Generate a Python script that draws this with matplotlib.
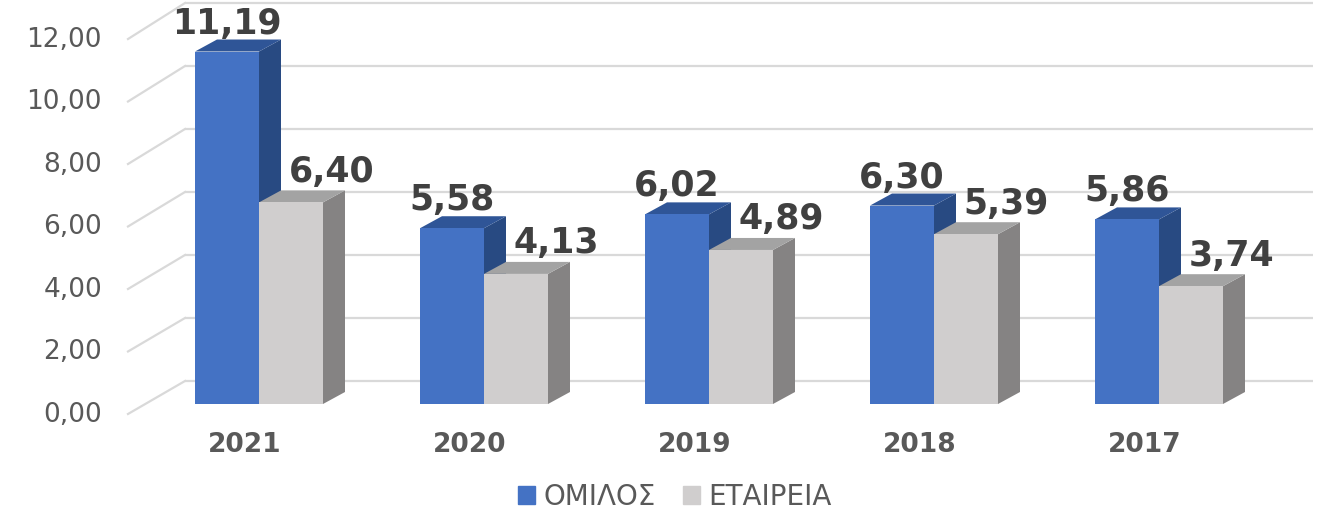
import matplotlib
matplotlib.use("Agg")
import matplotlib.pyplot as plt
from matplotlib.patches import Polygon, Patch

# data
years = ["2021", "2020", "2019", "2018", "2017"]
omilos = [11.19, 5.58, 6.02, 6.30, 5.86]
etaireia = [6.40, 4.13, 4.89, 5.39, 3.74]
series_names = ["ΟΜΙΛΟΣ", "ΕΤΑΙΡΕΙΑ"]
yticks = [0, 2, 4, 6, 8, 10, 12]

# colours: front, top, side
blue = ("#4472C4", "#2F5597", "#284A82")
grey = ("#D0CECE", "#A3A3A3", "#858383")
text_col = "#595959"
label_col = "#404040"
grid_col = "#D9D9D9"

W, H = 1322, 512
fig = plt.figure(figsize=(W / 100, H / 100), dpi=100)
ax = fig.add_axes([0, 0, 1, 1])
# 1 x unit = 225 px, 1 y unit = 31.5 px, group 0 centred at px 259, zero at px 404
ax.set_xlim(-259 / 225, (W - 259) / 225)
ax.set_ylim(-(H - 404) / 31.5, 404 / 31.5)
ax.axis("off")

bw = 64 / 225           # bar width
bdx, bdy = 22 / 225, 12 / 31.5   # bar depth
wall_x0, wall_x1, wall_dy = -74 / 225, 1054 / 225, 23 / 31.5
front_x = -131 / 225


def fmt(v):
    return f"{v:.2f}".replace(".", ",")


# back wall gridlines + left diagonals + tick labels
for v in yticks:
    yb = v + wall_dy
    yf = v * 0.992 - 0.317
    ax.plot([wall_x0, wall_x1], [yb, yb], color=grid_col, lw=1.6, zorder=1,
            solid_capstyle="butt")
    ax.plot([front_x, wall_x0], [yf, yb], color=grid_col, lw=1.6, zorder=1)
    ax.text(-157 / 225, v * 0.992 - 0.556, fmt(v), ha="right", va="baseline",
            fontsize=19, color=text_col)


def bar3d(x0, v, cols):
    x1 = x0 + bw
    side = [(x1, 0), (x1 + bdx, bdy), (x1 + bdx, v + bdy), (x1, v)]
    top = [(x0, v), (x1, v), (x1 + bdx, v + bdy), (x0 + bdx, v + bdy)]
    front = [(x0, 0), (x1, 0), (x1, v), (x0, v)]
    ax.add_patch(Polygon(side, closed=True, fc=cols[2], ec="none", zorder=3))
    ax.add_patch(Polygon(top, closed=True, fc=cols[1], ec="none", zorder=3))
    ax.add_patch(Polygon(front, closed=True, fc=cols[0], ec="none", zorder=3))


for i, (yr, a, b) in enumerate(zip(years, omilos, etaireia)):
    bar3d(i - bw, a, blue)
    bar3d(i, b, grey)
    ax.text(i - bw / 2, a + 0.57, fmt(a), ha="center", va="baseline",
            fontsize=25, fontweight="bold", color=label_col, zorder=5)
    ax.text(i + bw / 2 + 0.18, b + 0.65, fmt(b), ha="center", va="baseline",
            fontsize=25, fontweight="bold", color=label_col, zorder=5)
    ax.text(i - 0.064, -1.52, yr, ha="center", va="baseline",
            fontsize=19, fontweight="bold", color=text_col)

handles = [Patch(color=blue[0]), Patch(color=grey[0])]
fig.legend(handles, series_names, loc="center", ncol=2,
           bbox_to_anchor=(675 / W, 1 - 497 / H), frameon=False, fontsize=20,
           labelcolor=text_col, handlelength=0.6, handleheight=0.6,
           handletextpad=0.3, columnspacing=1.0)

fig.savefig("out.png", dpi=100)
